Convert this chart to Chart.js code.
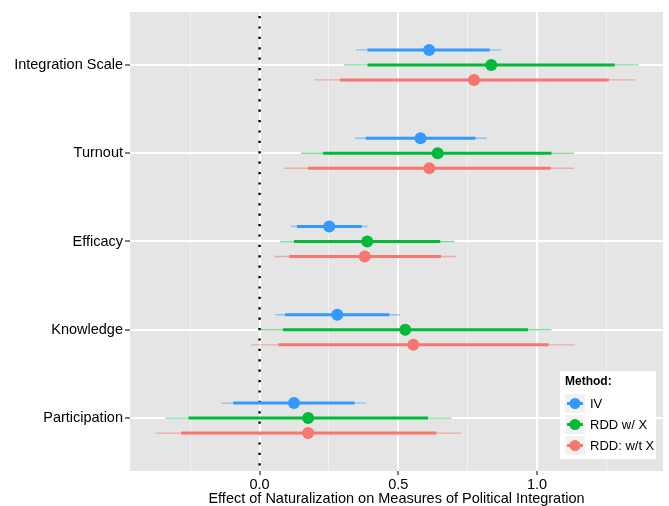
<!DOCTYPE html>
<html>
<head>
<meta charset="utf-8">
<script src="https://cdn.jsdelivr.net/npm/chart.js@4"></script>
<style>
  html, body { margin: 0; padding: 0; background: #fff; }
  #wrap { width: 669px; height: 506px; }
</style>
</head>
<body>
<div id="wrap"><canvas id="coefChart"></canvas></div>
<script>
// outcomes, top to bottom
const categories = ["Integration Scale", "Turnout", "Efficacy", "Knowledge", "Participation"];
const methods = ["IV", "RDD w/ X", "RDD: w/t X"];

const ivEst = [0.611, 0.580, 0.251, 0.280, 0.124];
const ivLo90 = [0.389, 0.383, 0.135, 0.092, -0.095];
const ivHi90 = [0.829, 0.778, 0.368, 0.468, 0.342];
const ivLo95 = [0.347, 0.344, 0.113, 0.057, -0.138];
const ivHi95 = [0.872, 0.818, 0.389, 0.505, 0.384];

const rddXEst = [0.835, 0.642, 0.388, 0.525, 0.175];
const rddXLo90 = [0.389, 0.229, 0.124, 0.084, -0.256];
const rddXHi90 = [1.280, 1.052, 0.651, 0.967, 0.607];
const rddXLo95 = [0.304, 0.149, 0.074, -0.001, -0.340];
const rddXHi95 = [1.367, 1.133, 0.702, 1.052, 0.692];

const rddEst = [0.773, 0.612, 0.379, 0.554, 0.175];
const rddLo90 = [0.289, 0.175, 0.107, 0.068, -0.283];
const rddHi90 = [1.259, 1.049, 0.654, 1.042, 0.637];
const rddLo95 = [0.196, 0.089, 0.054, -0.030, -0.374];
const rddHi95 = [1.353, 1.134, 0.706, 1.137, 0.725];

const xTicks = [-0.25, 0, 0.25, 0.5, 0.75, 1.0, 1.25];
const majorTicks = [0, 0.5, 1.0];
const zeroLine = 0;

const colors = ["#3399FF", "#00BA38", "#F8766D"];
const fadedColors = ["rgba(51,153,255,0.5)", "rgba(0,186,56,0.5)", "rgba(248,118,109,0.55)"];
const dodge = [0.17, 0, -0.17];
const fontFamily = "'Liberation Sans', Arial, sans-serif";

const series = [
  { est: ivEst, lo90: ivLo90, hi90: ivHi90, lo95: ivLo95, hi95: ivHi95 },
  { est: rddXEst, lo90: rddXLo90, hi90: rddXHi90, lo95: rddXLo95, hi95: rddXHi95 },
  { est: rddEst, lo90: rddLo90, hi90: rddHi90, lo95: rddLo95, hi95: rddHi95 },
];

function yPos(i, m) {
  return categories.length - i + dodge[m];
}

function segments(lo, hi, m) {
  const pts = [];
  lo.forEach(function (v, i) {
    pts.push({ x: v, y: yPos(i, m) });
    pts.push({ x: hi[i], y: yPos(i, m) });
    pts.push({ x: v, y: null });
  });
  return pts;
}

const datasets = [];
series.forEach(function (s, m) {
  datasets.push({
    type: "line",
    data: segments(s.lo95, s.hi95, m),
    borderColor: fadedColors[m],
    borderWidth: 1.3,
    pointRadius: 0,
    spanGaps: false,
    borderCapStyle: "butt",
    order: 3,
  });
  datasets.push({
    type: "line",
    data: segments(s.lo90, s.hi90, m),
    borderColor: colors[m],
    borderWidth: 3,
    pointRadius: 0,
    spanGaps: false,
    borderCapStyle: "butt",
    order: 2,
  });
  datasets.push({
    type: "scatter",
    data: s.est.map(function (v, i) { return { x: v, y: yPos(i, m) }; }),
    backgroundColor: colors[m],
    borderWidth: 0,
    pointRadius: 6,
    order: 1,
  });
});

const panelPlugin = {
  id: "panel",
  beforeDraw(chart) {
    const { ctx, chartArea: a } = chart;
    ctx.save();
    ctx.fillStyle = "#E5E5E5";
    ctx.fillRect(a.left, a.top, a.right - a.left, a.bottom - a.top);
    ctx.restore();
  },
  beforeDatasetsDraw(chart) {
    const { ctx, chartArea: a, scales } = chart;
    const px = scales.x.getPixelForValue(zeroLine);
    ctx.save();
    ctx.strokeStyle = "#000";
    ctx.lineWidth = 2.4;
    ctx.setLineDash([2.2, 8.2]);
    ctx.beginPath();
    ctx.moveTo(px, a.top + 4);
    ctx.lineTo(px, a.bottom);
    ctx.stroke();
    ctx.restore();
  },
  afterDraw(chart) {
    const ctx = chart.ctx;
    const left = 560, top = 371;
    ctx.save();
    ctx.fillStyle = "#fff";
    ctx.fillRect(left, top, 96, 88);
    ctx.fillStyle = "#000";
    ctx.font = "bold 12px " + fontFamily;
    ctx.textBaseline = "middle";
    ctx.fillText("Method:", left + 5, top + 11);
    ctx.font = "13px " + fontFamily;
    methods.forEach(function (name, m) {
      const ky = top + 23 + m * 21;
      ctx.fillStyle = "#F2F2F2";
      ctx.fillRect(left + 5, ky, 20, 19);
      ctx.strokeStyle = colors[m];
      ctx.lineWidth = 3;
      ctx.beginPath();
      ctx.moveTo(left + 7, ky + 9.5);
      ctx.lineTo(left + 23, ky + 9.5);
      ctx.stroke();
      ctx.fillStyle = colors[m];
      ctx.beginPath();
      ctx.arc(left + 15, ky + 9.5, 5.5, 0, Math.PI * 2);
      ctx.fill();
      ctx.fillStyle = "#000";
      ctx.fillText(name, left + 30, ky + 10);
    });
    ctx.restore();
  },
};

new Chart(document.getElementById("coefChart"), {
  data: { datasets: datasets },
  options: {
    responsive: true,
    maintainAspectRatio: false,
    animation: false,
    layout: { padding: { top: 12, right: 4, left: 0, bottom: 0 } },
    plugins: {
      legend: { display: false },
      tooltip: { enabled: false },
    },
    scales: {
      x: {
        type: "linear",
        min: -0.467,
        max: 1.454,
        afterBuildTicks: function (axis) {
          axis.ticks = xTicks.map(function (v) { return { value: v }; });
        },
        afterFit: function (axis) { axis.height = 35; },
        border: { display: false },
        grid: {
          color: function (c) {
            return majorTicks.indexOf(c.tick.value) >= 0 ? "#FFFFFF" : "#F2F2F2";
          },
          lineWidth: function (c) {
            return majorTicks.indexOf(c.tick.value) >= 0 ? 2 : 1;
          },
          tickColor: function (c) {
            return majorTicks.indexOf(c.tick.value) >= 0 ? "#7F7F7F" : "rgba(0,0,0,0)";
          },
          tickLength: 4,
          drawTicks: true,
        },
        ticks: {
          autoSkip: false,
          maxRotation: 0,
          padding: 3,
          color: "#000",
          font: { family: fontFamily, size: 14.5, lineHeight: 1 },
          callback: function (v) {
            return majorTicks.indexOf(v) >= 0 ? v.toFixed(1) : "";
          },
        },
        title: {
          display: true,
          text: "Effect of Naturalization on Measures of Political Integration",
          color: "#000",
          font: { family: fontFamily, size: 14.5, lineHeight: 1 },
          padding: 0,
        },
      },
      y: {
        type: "linear",
        min: 0.4,
        max: categories.length + 0.6,
        afterBuildTicks: function (axis) {
          axis.ticks = categories.map(function (c, i) { return { value: categories.length - i }; });
        },
        afterFit: function (axis) { axis.width = 130; },
        border: { display: false },
        grid: {
          color: "#FFFFFF",
          lineWidth: 2,
          tickColor: "#7F7F7F",
          tickLength: 5,
        },
        ticks: {
          autoSkip: false,
          padding: 2,
          color: "#000",
          font: { family: fontFamily, size: 14.5 },
          callback: function (v) {
            return categories[categories.length - v];
          },
        },
      },
    },
  },
  plugins: [panelPlugin],
});
</script>
</body>
</html>
